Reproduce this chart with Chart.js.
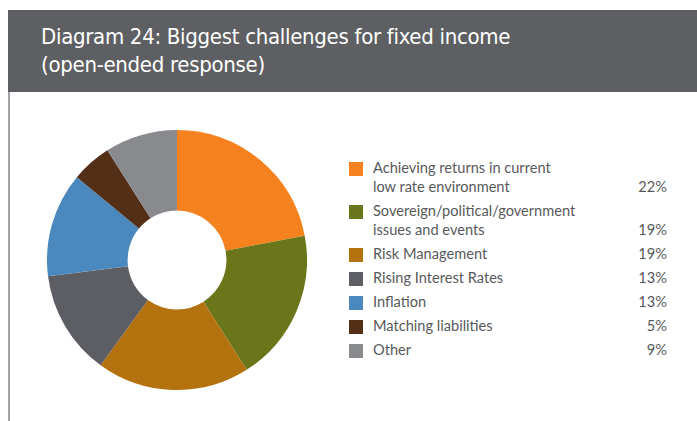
<!DOCTYPE html>
<html lang="en">
<head>
    <meta charset="UTF-8">
    <title>Diagram 24</title>
    <script src="https://cdn.jsdelivr.net/npm/chart.js"></script>
    <style>
        html, body { margin: 0; padding: 0; background: #fff; }
        body { width: 697px; height: 421px; position: relative; overflow: hidden; }
        .header {
            position: absolute; left: 8px; top: 10px; right: 0; height: 82px;
            background: #5e5f63;
        }
        .header h1 {
            margin: 0; position: absolute; left: 33px; top: 13px;
            font-family: "Liberation Sans Narrow", "DejaVu Sans Condensed", sans-serif;
            font-weight: normal; font-size: 22px; line-height: 28px; color: #fff;
            letter-spacing: -0.3px;
        }
        .frame { position: absolute; left: 8px; top: 92px; width: 2px; height: 329px; background: #a3a3a3; }
        .chart-box { position: absolute; left: 47px; top: 130px; width: 260px; height: 260px; }
        .legend {
            position: absolute; left: 349px; top: 158px; width: 320px;
            font-family: Lato, "Open Sans", sans-serif; font-size: 14.6px; line-height: 19px; color: #58595b;
        }
        .item { position: relative; margin-bottom: 5px; padding-left: 24px; }
        .item .sw { position: absolute; left: 0; top: 4px; width: 14px; height: 14px; }
        .item .pct { position: absolute; right: 2px; bottom: 0; }
    </style>
</head>
<body>
    <div class="header">
        <h1>Diagram 24: Biggest challenges for fixed income<br>(open-ended response)</h1>
    </div>
    <div class="frame"></div>
    <div class="chart-box"><canvas id="chart"></canvas></div>
    <div class="legend" id="legend"></div>

    <script>
        // dados do gráfico
        const labels = [
            ['Achieving returns in current', 'low rate environment'],
            ['Sovereign/political/government', 'issues and events'],
            ['Risk Management'],
            ['Rising Interest Rates'],
            ['Inflation'],
            ['Matching liabilities'],
            ['Other']
        ];
        const values = [22, 19, 19, 13, 13, 5, 9];
        const colors = ['#f5821f', '#6a7619', '#b3720d', '#5d5e63', '#4a88be', '#532f17', '#898a8e'];

        // legenda à direita
        const legend = document.getElementById('legend');
        labels.forEach((lines, i) => {
            const item = document.createElement('div');
            item.className = 'item';
            item.innerHTML = '<span class="sw" style="background:' + colors[i] + '"></span>' +
                lines.join('<br>') + '<span class="pct">' + values[i] + '%</span>';
            legend.appendChild(item);
        });

        new Chart(document.getElementById('chart'), {
            type: 'doughnut',
            data: {
                labels: labels.map(l => l.join(' ')),
                datasets: [{
                    data: values,
                    backgroundColor: colors,
                    borderWidth: 0
                }]
            },
            options: {
                responsive: true,
                maintainAspectRatio: false,
                animation: false,
                cutout: '38%',
                plugins: {
                    legend: { display: false },
                    tooltip: { enabled: false }
                }
            }
        });
    </script>
</body>
</html>
